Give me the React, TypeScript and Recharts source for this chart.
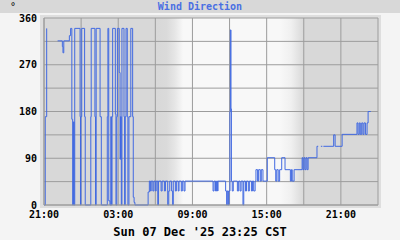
import React from 'react';
import { LineChart, Line, XAxis, YAxis, CartesianGrid } from 'recharts';

const title = 'Wind Direction';
const unit = '°';
const stamp = "Sun 07 Dec '25 23:25 CST";

// sample times (local clock, starting 21:00 the day before) and direction in degrees
const times = [
  '21:00', '21:06', '21:13', '21:15', '22:06', '22:29', '22:32', '22:36', '23:03', '23:09',
  '23:15', '23:19', '23:23', '23:26', '23:29', '23:55', '23:57', '23:59', '00:03', '00:17',
  '00:20', '00:47', '00:49', '01:07', '01:10', '01:13', '01:32', '01:38', '02:07', '02:10',
  '02:14', '02:20', '02:24', '02:27', '02:30', '02:33', '02:46', '02:49', '02:53', '02:56',
  '03:05', '03:09', '03:11', '03:15', '03:18', '03:28', '03:31', '03:34', '03:38', '03:44',
  '03:47', '03:52', '04:01', '04:10', '04:13', '04:17', '04:21', '05:25', '05:31', '05:36',
  '05:40', '05:48', '05:53', '06:00', '06:04', '06:12', '06:15', '06:28', '06:33', '06:44',
  '06:49', '07:00', '07:05', '07:10', '07:19', '07:24', '07:27', '07:37', '07:42', '07:51',
  '07:55', '08:06', '08:11', '08:19', '08:24', '10:40', '10:45', '10:52', '10:57', '11:02',
  '11:04', '11:41', '11:46', '11:49', '11:54', '11:57', '12:02', '12:04', '12:07', '12:09',
  '12:13', '12:18', '12:38', '12:44', '12:51', '12:56', '13:05', '13:09', '13:17', '13:22',
  '13:31', '13:36', '13:46', '13:51', '13:57', '14:04', '14:08', '14:16', '14:21', '14:29',
  '14:34', '14:42', '15:03', '15:39', '15:44', '15:49', '15:56', '16:03', '16:13', '16:29',
  '16:55', '17:00', '17:04', '17:13', '17:52', '17:56', '18:01', '18:06', '18:11', '18:16',
  '18:21', '19:04', '19:10', '19:11', '19:23', '19:30', '19:31', '19:35', '20:25', '20:32',
  '21:06', '22:18', '22:23', '22:29', '22:34', '22:41', '22:47', '22:52', '22:59', '23:07',
  '23:12', '23:25',
];
const directions: (number | null)[] = [
  0, 170, 340, null, 316, 305, 293, 316, 326, 340,
  165, 0, 160, 0, 340, 170, 0, 170, 340, 170,
  0, 170, 340, 170, 0, 340, 170, 0, 170, 340,
  8, 0, 170, 0, 170, 340, 175, 0, 170, 340,
  255, 88, 170, 0, 340, 170, 0, 170, 340, 170,
  0, 170, 340, 170, 15, 5, 0, 25, 46, 27,
  46, 27, 46, 27, 46, 0, 46, 27, 46, 27,
  46, 0, 27, 46, 27, 0, 46, 27, 46, 27,
  46, 27, 46, 27, 46, 27, 46, 27, 46, 27,
  46, 27, 0, 27, 0, 27, 180, 337, 185, 46,
  27, 46, 27, 46, 27, 46, 0, 46, 27, 46,
  27, 46, 27, 46, 27, 46, 68, 46, 68, 46,
  68, 46, 91, 68, 46, 68, 46, 68, 91, 68,
  46, 68, 46, 68, 91, 68, 91, 68, 91, 68,
  91, 113, 113, null, 113, 113, null, 113, 135, 113,
  136, 158, 136, 158, 136, 158, 136, 158, 136, 158,
  180, 180,
];

// sky shading: dawn and dusk
const skyTimes = ['06:08', '06:55', '07:35', '08:15', '16:05', '16:58', '18:00'];
const skyColors = ['#d8d8d8', '#dadada', '#e6e6e6', '#f8f8f8', '#f8f8f8', '#f0f0f0', '#d8d8d8'];

const xTicks = [0, 180, 360, 540, 720, 900, 1080, 1260, 1440, 1620];
const yTicks = [0, 45, 90, 135, 180, 225, 270, 315, 360];

const START = 21 * 60;
const SPAN = 27 * 60;

const toOffset = (s: string) => {
  const [h, m] = s.split(':').map(Number);
  let v = h * 60 + m - START;
  if (v < 0) v += 1440;
  return v;
};

const data = (() => {
  let prev = -1;
  return times.map((s, i) => {
    let t = toOffset(s);
    while (t < prev) t += 1440;
    prev = t;
    return { t, dir: directions[i] };
  });
})();

const clock = (v: number) => {
  const m = (START + v) % 1440;
  return `${String(Math.floor(m / 60)).padStart(2, '0')}:${String(m % 60).padStart(2, '0')}`;
};

const font = '"DejaVu Sans Mono", monospace';
const tickStyle = { fontFamily: font, fontSize: 10, fontWeight: 'bold', fill: '#000' };

export default function App() {
  return (
    <div style={{ position: 'relative', width: 400, height: 240, background: '#f4f4f4', fontFamily: font, overflow: 'hidden' }}>
      <style>{'body{margin:0}'}</style>
      <svg width={0} height={0} style={{ position: 'absolute' }}>
        <defs>
          <linearGradient id="sky" x1="0" y1="0" x2="1" y2="0">
            {skyTimes.map((s, i) => (
              <stop key={s} offset={toOffset(s) / SPAN} stopColor={skyColors[i]} />
            ))}
          </linearGradient>
        </defs>
      </svg>
      <div style={{ position: 'absolute', left: 0, top: 0, width: 400, height: 13, background: '#d8d8d8' }} />
      <div style={{ position: 'absolute', left: 10, top: 0, fontSize: 10, lineHeight: '13px', color: '#000' }}>{unit}</div>
      <div style={{ position: 'absolute', left: 0, top: 0, width: 400, textAlign: 'center', fontSize: 10, lineHeight: '13px', fontWeight: 'bold', color: '#4a6fe3' }}>
        {title}
      </div>
      <div style={{ position: 'absolute', left: 40, top: 15, width: 341, height: 193, background: '#dedede' }} />
      <div style={{ position: 'absolute', left: 0, top: 0 }}>
        <LineChart width={400} height={240} data={data} margin={{ top: 18, right: 22, bottom: 14, left: 0 }}>
          <CartesianGrid stroke="#9c9c9c" fill="url(#sky)" fillOpacity={1} />
          <XAxis
            type="number"
            dataKey="t"
            domain={[0, SPAN]}
            ticks={xTicks}
            interval={0}
            height={21}
            tickLine={false}
            tickSize={4}
            tickMargin={2}
            axisLine={{ stroke: '#9c9c9c' }}
            tick={tickStyle}
            tickFormatter={(v: number) => (v % 360 === 0 ? clock(v) : '')}
          />
          <YAxis
            type="number"
            domain={[0, 360]}
            ticks={yTicks}
            interval={0}
            width={44}
            tickLine={false}
            tickSize={5}
            tickMargin={2}
            axisLine={{ stroke: '#9c9c9c' }}
            tick={tickStyle}
            tickFormatter={(v: number) => (v % 90 === 0 ? String(v) : '')}
          />
          <Line
            type="stepAfter"
            dataKey="dir"
            stroke="#4169e1"
            strokeWidth={1}
            dot={false}
            connectNulls={false}
            isAnimationActive={false}
          />
        </LineChart>
      </div>
      <div style={{ position: 'absolute', left: 0, top: 225, width: 400, textAlign: 'center', fontSize: 12, lineHeight: '14px', fontWeight: 'bold', color: '#000' }}>
        {stamp}
      </div>
    </div>
  );
}
